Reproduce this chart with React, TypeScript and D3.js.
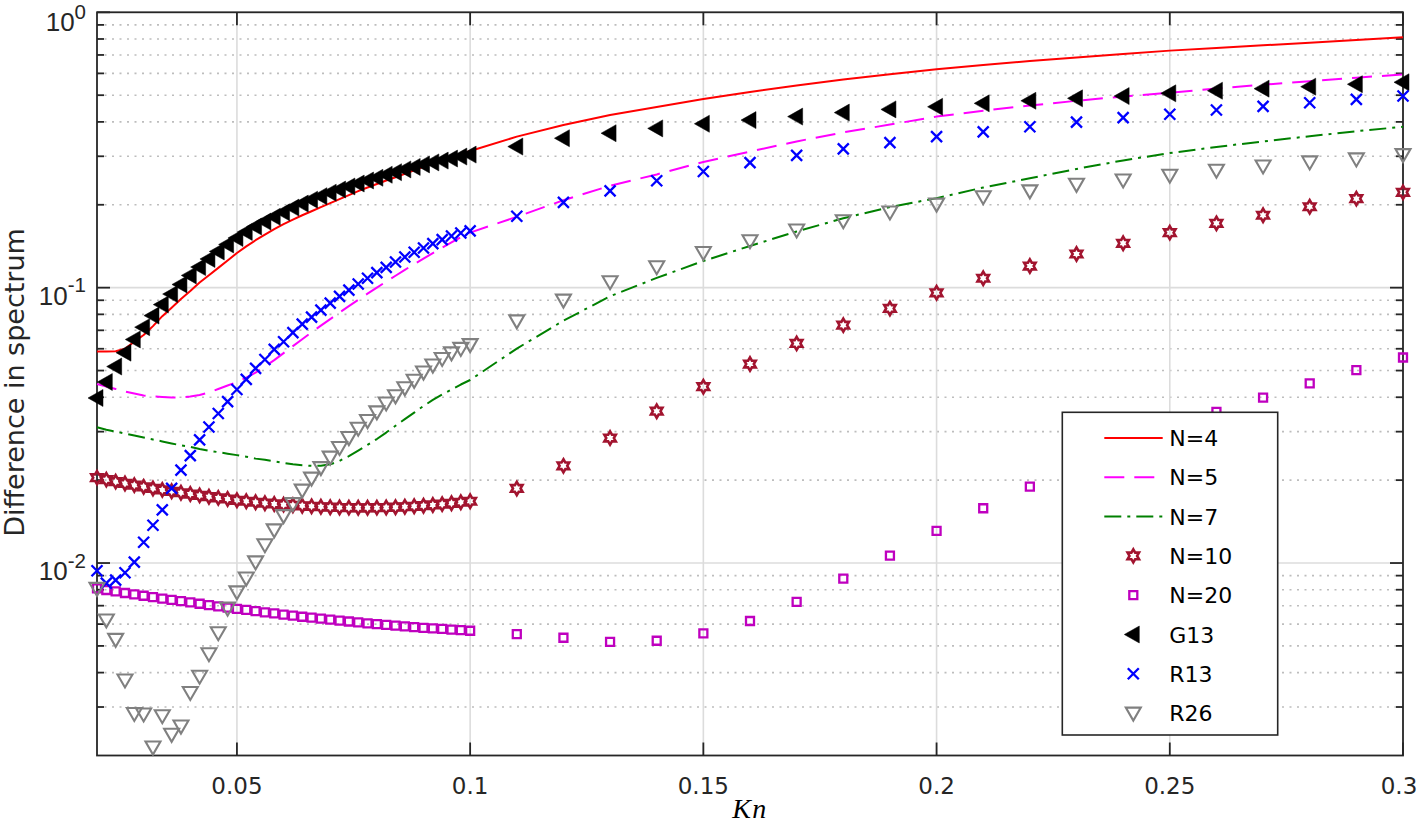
import React from 'react';
import * as d3 from 'd3';

// ---------- data ----------
const kn = [0.02,0.022,0.024,0.026,0.028,0.03,0.032,0.034,0.036,0.038,0.04,0.042,0.044,0.046,0.048,0.05,0.052,0.054,0.056,0.058,0.06,0.062,0.064,0.066,0.068,0.07,0.072,0.074,0.076,0.078,0.08,0.082,0.084,0.086,0.088,0.09,0.092,0.094,0.096,0.098,0.1,0.11,0.12,0.13,0.14,0.15,0.16,0.17,0.18,0.19,0.2,0.21,0.22,0.23,0.24,0.25,0.26,0.27,0.28,0.29,0.3];

const n4 = [0.0586,0.0586,0.0588,0.0600,0.0637,0.0673,0.0725,0.0788,0.0846,0.0909,0.0972,0.1044,0.1110,0.1180,0.1256,0.1336,0.1412,0.1487,0.1558,0.1632,0.1702,0.1767,0.1832,0.1894,0.1962,0.2028,0.2097,0.2167,0.2241,0.2310,0.2379,0.2450,0.2518,0.2593,0.2670,0.2745,0.2822,0.2898,0.2975,0.3053,0.3134,0.3536,0.3897,0.4239,0.4531,0.4842,0.5133,0.5425,0.5700,0.5957,0.6207,0.6435,0.6654,0.6856,0.7060,0.7258,0.7418,0.7587,0.7760,0.7930,0.8110];

const n5 = [0.04468,0.04376,0.04287,0.04197,0.04127,0.04059,0.04026,0.04009,0.03992,0.03992,0.04026,0.04076,0.04162,0.04287,0.04412,0.04543,0.04714,0.04914,0.05169,0.05458,0.05787,0.06135,0.06499,0.0688,0.07278,0.07689,0.08122,0.08566,0.09029,0.0951,0.1001,0.1052,0.1105,0.1161,0.1217,0.1275,0.1335,0.1397,0.1461,0.1526,0.1585,0.1809,0.2077,0.2344,0.2578,0.2862,0.3121,0.3397,0.3663,0.391,0.418,0.4394,0.4588,0.4772,0.4948,0.5104,0.5286,0.5457,0.5623,0.5785,0.5952];

const n7 = [0.03112,0.03048,0.03002,0.02952,0.02903,0.02855,0.02808,0.02765,0.02719,0.02674,0.02641,0.02597,0.02559,0.02527,0.02496,0.02465,0.02434,0.02394,0.0237,0.0234,0.02311,0.02282,0.02263,0.02254,0.02254,0.02282,0.0235,0.02444,0.02559,0.02685,0.0282,0.02977,0.03152,0.0333,0.03516,0.03718,0.0391,0.04093,0.04267,0.04449,0.0462,0.06008,0.07588,0.09305,0.1085,0.125,0.1417,0.16,0.1786,0.1961,0.2114,0.231,0.2497,0.2699,0.2898,0.3082,0.3244,0.3397,0.3548,0.37,0.3839];

const n10 = [0.02042,0.02008,0.01975,0.01945,0.01918,0.01891,0.01866,0.01843,0.01822,0.018,0.0178,0.0176,0.01741,0.01724,0.01708,0.0169,0.01676,0.01662,0.01649,0.01639,0.01629,0.01621,0.01613,0.01606,0.01601,0.01595,0.01591,0.01589,0.01587,0.01587,0.01589,0.01591,0.01595,0.01601,0.01607,0.01615,0.01625,0.01636,0.01648,0.01662,0.01676,0.01866,0.02254,0.02843,0.0356,0.04368,0.0528,0.06275,0.07308,0.08405,0.09581,0.1082,0.1198,0.1325,0.1449,0.1584,0.1712,0.1832,0.1967,0.2105,0.2219];

const n20 = [0.008088,0.00798,0.007884,0.007784,0.007694,0.007606,0.007517,0.00743,0.007348,0.007269,0.007191,0.007113,0.007036,0.006959,0.006885,0.006817,0.006756,0.006689,0.006622,0.006562,0.006501,0.006442,0.006382,0.00633,0.006277,0.006226,0.006179,0.006132,0.006086,0.006041,0.006001,0.005961,0.005921,0.005887,0.005853,0.005819,0.00579,0.005762,0.005733,0.005705,0.005677,0.005522,0.005354,0.005176,0.00522,0.005555,0.006158,0.007227,0.008784,0.01064,0.01309,0.01581,0.01894,0.02254,0.02663,0.03086,0.03539,0.03985,0.04494,0.0502,0.05578];

const g13 = [0.03975,0.04543,0.05171,0.05807,0.06484,0.07186,0.07917,0.08678,0.09477,0.1027,0.1108,0.1188,0.1271,0.1353,0.1435,0.1515,0.1593,0.1667,0.1738,0.1809,0.1878,0.1953,0.202,0.2087,0.2149,0.2213,0.2272,0.233,0.2389,0.245,0.2507,0.2571,0.2626,0.2688,0.2744,0.2802,0.285,0.2894,0.2944,0.2993,0.3043,0.3253,0.3489,0.3638,0.3788,0.3937,0.406,0.418,0.4322,0.444,0.4538,0.467,0.4772,0.487,0.4964,0.5078,0.519,0.5281,0.537,0.548,0.5572];

const r13 = [0.009375,0.008455,0.00867,0.00922,0.01008,0.0119,0.01371,0.0156,0.01866,0.02175,0.02454,0.028,0.0312,0.03492,0.03855,0.04267,0.04644,0.05094,0.05486,0.05967,0.06359,0.06864,0.07369,0.07817,0.0829,0.08787,0.09297,0.098,0.1031,0.1082,0.1134,0.1185,0.1239,0.1292,0.1344,0.1394,0.1445,0.1494,0.1541,0.158,0.1607,0.1816,0.204,0.2247,0.2446,0.2641,0.2845,0.3023,0.3191,0.3363,0.3536,0.3678,0.3839,0.3993,0.4144,0.4264,0.442,0.4554,0.4693,0.4829,0.4964];

const r26 = [0.008088,0.00621,0.005282,0.003762,0.002841,0.002831,0.002146,0.002789,0.002388,0.002558,0.003387,0.00388,0.004683,0.005583,0.006856,0.007858,0.00882,0.0101,0.01165,0.0132,0.01487,0.01644,0.0184,0.02034,0.02221,0.02424,0.02629,0.02855,0.03086,0.03292,0.03539,0.03813,0.04049,0.04328,0.04608,0.04937,0.05236,0.05532,0.05798,0.06017,0.06211,0.07576,0.0901,0.1051,0.1191,0.1342,0.1481,0.162,0.175,0.1883,0.2011,0.214,0.2247,0.2373,0.246,0.2561,0.267,0.2767,0.2862,0.2935,0.3043];

const xTicks = [0.05, 0.1, 0.15, 0.2, 0.25, 0.3];
const xTickLabels = ['0.05', '0.1', '0.15', '0.2', '0.25', '0.3'];
const yMajorTicks = [0.01, 0.1, 1];
const yMajorExp = ['-2', '-1', '0'];
const legendLabels = ['N=4', 'N=5', 'N=7', 'N=10', 'N=20', 'G13', 'R13', 'R26'];

// ---------- layout ----------
const W = 1418, H = 825;
const L = 97, R = 1403, T = 12.3, B = 755.5;
const AX = '#262626';

function hexagramPath(rad: number) {
  const r = rad / Math.sqrt(3);
  const pts: string[] = [];
  for (let i = 0; i < 12; i++) {
    const a = -Math.PI / 2 + (i * Math.PI) / 6;
    const rr = i % 2 === 0 ? rad : r;
    pts.push(`${(rr * Math.cos(a)).toFixed(2)},${(rr * Math.sin(a)).toFixed(2)}`);
  }
  return 'M' + pts.join('L') + 'Z';
}

const markers: Record<string, { d: string; fill: string; stroke: string; sw: number }> = {
  hex: { d: hexagramPath(6.6), fill: 'none', stroke: '#a2142f', sw: 2.6 },
  sq: { d: 'M-4,-4H4V4H-4Z', fill: 'none', stroke: '#bf00bf', sw: 2.3 },
  tri: { d: 'M-9,0L6,-8.5L6,8.5Z', fill: '#000', stroke: '#000', sw: 0.5 },
  x: { d: 'M-5.5,-5.5L5.5,5.5M-5.5,5.5L5.5,-5.5', fill: 'none', stroke: '#0000ff', sw: 2.3 },
  v: { d: 'M-7.5,-5.5L7.5,-5.5L0,7.5Z', fill: 'none', stroke: '#808080', sw: 2.1 },
};

export default function App() {
  const x = d3.scaleLinear().domain([0.02, 0.3]).range([L, R]);
  const y = d3.scaleLog().domain([0.002, 1]).range([B, T]);

  const minorY: number[] = [];
  [0.001, 0.01, 0.1].forEach((d) => {
    for (let m = 2; m <= 9; m++) {
      const v = m * d;
      if (v > 0.00201 && v < 0.99) minorY.push(v);
    }
  });

  const line = (vals: number[]) =>
    d3.line<number>().x((_, i) => x(kn[i])).y((v) => y(v))(vals) || '';

  const lineSeries = [
    { vals: n4, color: '#ff0000', dash: undefined as string | undefined },
    { vals: n5, color: '#ff00ff', dash: '20 10' },
    { vals: n7, color: '#008000', dash: '17 6 3 6' },
  ];
  const markerSeries = [
    { vals: n10, m: 'hex' },
    { vals: n20, m: 'sq' },
    { vals: g13, m: 'tri' },
    { vals: r13, m: 'x' },
    { vals: r26, m: 'v' },
  ];

  const legendX = 1062.3, legendY = 412.3, legendW = 215.4, legendH = 322.7;
  const rowY = (i: number) => 438 + i * 39.3;

  return (
    <svg
      width={W}
      height={H}
      style={{ position: 'absolute', left: 0, top: 0, display: 'block', background: '#fff' }}
      xmlns="http://www.w3.org/2000/svg"
    >
      <rect x={0} y={0} width={W} height={H} fill="#fff" />
      {/* minor grid */}
      {minorY.map((v) => (
        <line key={'mg' + v} x1={L} x2={R} y1={y(v)} y2={y(v)} stroke="#bdbdbd" strokeWidth={1.6} strokeDasharray="2 5.5" />
      ))}
      {/* major grid */}
      {xTicks.map((v) => (
        <line key={'gx' + v} x1={x(v)} x2={x(v)} y1={T} y2={B} stroke="#dcdcdc" strokeWidth={1.6} />
      ))}
      {yMajorTicks.map((v) => (
        <line key={'gy' + v} x1={L} x2={R} y1={y(v)} y2={y(v)} stroke="#dcdcdc" strokeWidth={1.6} />
      ))}

      {/* axes box */}
      <rect x={L} y={T} width={R - L} height={B - T} fill="none" stroke={AX} strokeWidth={1.8} />
      {/* x ticks */}
      {xTicks.map((v) => (
        <g key={'xt' + v}>
          <line x1={x(v)} x2={x(v)} y1={B} y2={B - 13} stroke={AX} strokeWidth={1.8} />
          <line x1={x(v)} x2={x(v)} y1={T} y2={T + 13} stroke={AX} strokeWidth={1.8} />
        </g>
      ))}
      {/* y ticks */}
      {yMajorTicks.map((v) => (
        <g key={'yt' + v}>
          <line x1={L} x2={L + 13} y1={y(v)} y2={y(v)} stroke={AX} strokeWidth={1.8} />
          <line x1={R} x2={R - 13} y1={y(v)} y2={y(v)} stroke={AX} strokeWidth={1.8} />
        </g>
      ))}
      {minorY.map((v) => (
        <g key={'ymt' + v}>
          <line x1={L} x2={L + 7} y1={y(v)} y2={y(v)} stroke={AX} strokeWidth={1.8} />
          <line x1={R} x2={R - 7} y1={y(v)} y2={y(v)} stroke={AX} strokeWidth={1.8} />
        </g>
      ))}

      {/* tick labels */}
      {xTicks.map((v, i) => (
        <text key={'xl' + v} x={Math.min(x(v), W - 19)} y={793.5} textAnchor="middle" fontFamily="DejaVu Sans" fontSize={23} fill={AX}>
          {xTickLabels[i]}
        </text>
      ))}
      {yMajorTicks.map((v, i) => (
        <text key={'yl' + v} x={86} y={Math.max(y(v) + 17, 31)} textAnchor="end" fontFamily="Liberation Sans, Arial" fontSize={26} fill={AX}>
          <tspan>10</tspan>
          <tspan dy={-12.5} fontSize={20.5}>{yMajorExp[i]}</tspan>
        </text>
      ))}

      {/* axis labels */}
      <text x={750} y={818} textAnchor="middle" fontFamily="Liberation Serif, Times New Roman" fontStyle="italic" fontSize={28} letterSpacing={1.5} fill="#000">
        Kn
      </text>
      <text transform="translate(24,382.5) rotate(-90)" textAnchor="middle" fontFamily="DejaVu Sans" fontSize={27} fill={AX}>
        Difference in spectrum
      </text>

      {/* lines */}
      {lineSeries.map((s, i) => (
        <path key={'ln' + i} d={line(s.vals)} fill="none" stroke={s.color} strokeWidth={2} strokeDasharray={s.dash} strokeLinejoin="round" />
      ))}
      {/* markers */}
      {markerSeries.map((s, si) => {
        const mk = markers[s.m];
        return (
          <g key={'ms' + si}>
            {s.vals.map((v, i) => (
              <path
                key={i}
                d={mk.d}
                transform={`translate(${x(kn[i]).toFixed(2)},${y(v).toFixed(2)})`}
                fill={mk.fill}
                stroke={mk.stroke}
                strokeWidth={mk.sw}
                strokeLinejoin="miter"
              />
            ))}
          </g>
        );
      })}

      {/* legend */}
      <rect x={legendX} y={legendY} width={legendW} height={legendH} fill="#fff" stroke={AX} strokeWidth={1.6} />
      {legendLabels.map((lab, i) => {
        const cy = rowY(i);
        let sample: React.ReactNode = null;
        if (i < 3) {
          const s = lineSeries[i];
          sample = <line x1={1104.3} x2={1162.7} y1={cy} y2={cy} stroke={s.color} strokeWidth={2} strokeDasharray={s.dash} />;
        } else {
          const mk = markers[markerSeries[i - 3].m];
          sample = <path d={mk.d} transform={`translate(1133.3,${cy})`} fill={mk.fill} stroke={mk.stroke} strokeWidth={mk.sw} />;
        }
        return (
          <g key={'lg' + i}>
            {sample}
            <text x={1169.3} y={cy + 8} fontFamily="DejaVu Sans" fontSize={22} fill="#000">
              {lab}
            </text>
          </g>
        );
      })}
    </svg>
  );
}
